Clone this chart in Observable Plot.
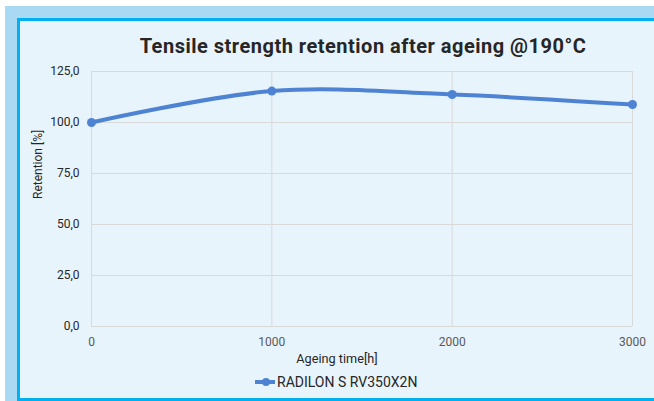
<!DOCTYPE html>
<html>
<head>
<meta charset="utf-8">
<script src="https://cdn.jsdelivr.net/npm/d3@7"></script>
<script src="https://cdn.jsdelivr.net/npm/@observablehq/plot@0.6"></script>
<style>
  html, body { margin: 0; padding: 0; background: #ffffff; }
  #wrap { position: relative; width: 654px; height: 401px; overflow: hidden; background: #ffffff; font-family: Roboto, "Noto Sans", sans-serif; }
  #band { position: absolute; left: 5px; top: 6px; width: 649px; height: 395px; background: #a9d9f3; }
  #panel { position: absolute; left: 17px; top: 18px; width: 637px; height: 377px; background: #e8f4fc;
           border-left: 3px solid #00b0f0; border-top: 3px solid #00b0f0; border-bottom: 3px solid #00b0f0; }
  #chart { position: absolute; left: 0; top: 0; }
  .title { position: absolute; left: 0; width: 726px; top: 34px; text-align: center; font-size: 20px; font-weight: 700;
           letter-spacing: 0.5px; color: #262626; white-space: nowrap; }
  .xlab { position: absolute; left: 237px; width: 200px; top: 351px; text-align: center; font-size: 12.7px; color: #262626; }
  .legend { position: absolute; left: 255px; top: 374px; font-size: 14px; color: #262626; display: flex; align-items: center; white-space: nowrap; }
  .legend svg { margin-right: 2px; }
</style>
</head>
<body>
<div id="wrap">
  <div id="band"></div>
  <div id="panel"></div>
  <div id="chart"></div>
  <div class="title">Tensile strength retention after ageing @190°C</div>
  <div class="xlab">Ageing time[h]</div>
  <div class="legend"><svg width="20" height="10"><line x1="0" y1="5" x2="20" y2="5" stroke="#4e83d3" stroke-width="4"/><circle cx="11" cy="5" r="4" fill="#4e83d3"/></svg>RADILON S RV350X2N</div>
</div>
<script>
const hours = [0, 1000, 2000, 3000];
const retention = [100, 115.4, 113.7, 108.8];
const seriesName = "RADILON S RV350X2N";
const xTicks = [0, 1000, 2000, 3000];
const yTicks = [0, 25, 50, 75, 100, 125];

const data = hours.map((h, i) => ({hours: h, retention: retention[i], series: seriesName}));
const fmtY = d => d.toFixed(1).replace(".", ",");
const fmtX = d => String(d);

const chart = Plot.plot({
  width: 654,
  height: 401,
  marginLeft: 91,
  marginRight: 22,
  marginTop: 71,
  marginBottom: 75,
  style: {background: "transparent", fontFamily: "Roboto, 'Noto Sans', sans-serif", fontSize: "12px", color: "#262626"},
  x: {domain: [0, 3000], ticks: xTicks, label: null},
  y: {domain: [0, 125], ticks: yTicks, label: null},
  marks: [
    Plot.gridX(xTicks, {stroke: "#d9d9d9", strokeOpacity: 1, strokeWidth: 1}),
    Plot.gridY(yTicks, {stroke: "#d9d9d9", strokeOpacity: 1, strokeWidth: 1}),
    Plot.axisX(xTicks, {tickSize: 0, tickPadding: 11, tickFormat: fmtX, fill: "#595959", fontSize: 12, label: null}),
    Plot.axisY(yTicks, {tickSize: 0, tickPadding: 12, tickFormat: fmtY, fill: "#262626", fontSize: 12, label: null}),
    Plot.text(["Retention [%]"], {frameAnchor: "left", dx: -53, rotate: -90, fontSize: 12, fill: "#262626"}),
    Plot.line(data, {x: "hours", y: "retention", stroke: "#4e83d3", strokeWidth: 4, curve: "catmull-rom"}),
    Plot.dot(data, {x: "hours", y: "retention", r: 4.5, fill: "#4e83d3", stroke: "none"})
  ]
});
document.getElementById("chart").appendChild(chart);
</script>
</body>
</html>
